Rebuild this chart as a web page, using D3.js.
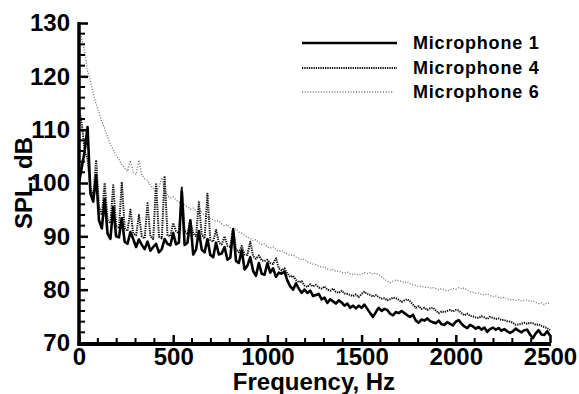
<!DOCTYPE html>
<html><head><meta charset="utf-8">
<script src="https://cdn.jsdelivr.net/npm/d3@7"></script>
<style>
html,body{margin:0;padding:0;background:#fff;}
svg text{font-family:"Liberation Sans",Arial,Helvetica,sans-serif;font-weight:bold;fill:#000;}
</style></head><body>
<svg id="chart" width="579" height="394"></svg>
<script>
// Frequency bins (Hz): 166 bins evenly spaced from 0 to 2500 Hz
const binCount = 166;
const freqMax = 2500;
const freqHz = d3.range(binCount).map(i => i * freqMax / (binCount - 1));

const seriesNames = ["Microphone 1", "Microphone 4", "Microphone 6"];

const mic1 = [100,103,106,110.5,98,96.5,101.5,93,91.5,97,90.5,89.5,95.5,90,89.8,93.4,89,88.6,90.8,89.5,
88,89.4,88.4,87.6,89,87.3,88,88.6,87,87.6,89.5,88.6,88.3,90.6,88.5,88.8,98.5,88.4,88.8,93,
86.6,87.5,91,87.5,87,89.5,86.5,86.1,88.8,86.6,86.8,88,85.6,86,91.2,85.4,85,87.4,83.8,84.5,
86.1,83.5,82.6,85,83,82.8,85,83.2,84,82.4,83.2,83,83.4,81.7,80.6,80,81.2,80.2,79.4,80,
79.4,79.8,78.8,79,79.2,78.2,78.5,77.5,78.2,77.8,77.4,78,77.6,77,77.4,76.6,77,76.5,77,76.6,
77.2,76.4,75.6,74.9,75.8,76.6,76,76.4,76.2,75.5,75.2,75.8,75.6,76,75.6,75.2,74.9,75.3,74.2,73.8,
74.4,74.2,74.6,74.1,73.9,73.7,74.2,73.5,73.4,73.9,73.6,73.3,74,74.3,73.6,73.1,72.8,73.4,73.1,72.7,
73,72.5,72.9,72.1,72.6,72.9,72.5,72.8,72.3,72.6,72.2,71.9,72.2,72.7,72.3,72,72.4,72.5,71.6,70.9,
71.8,72.4,71.6,71.5,72.2,71.4];

const mic4 = [114,111,106,104.5,99,97.5,104.3,95.5,94,100,93,92.5,99.6,92,91.5,100.2,91.5,91,95,90.5,
90.2,94,90,89.6,96.2,90,89.5,100,90,89.6,101.3,90.2,90,92.5,91,90.5,99.3,91,90.4,93,
90.5,90,96.4,90.3,89.6,98,89.3,89,91.2,88.8,88.5,90,88.2,88,91.6,87.5,87,88.2,86.6,86.5,
89,86.3,85.8,86.4,85.5,85.4,85.6,85,84.8,85.9,84,83.6,84,83,82.4,82.6,81.8,81.4,81.6,80.8,
80.5,81,80.6,80.9,80.4,80.2,80.6,80,79.8,80.2,79.6,79.4,79.8,79.3,79.2,79,78.8,79.1,78.6,79.2,
79.6,79.2,79,78.7,79,78.6,78.3,78.4,78,78.2,78.5,78.4,78.1,77.7,78,78.2,77.8,77.2,76.6,76.9,
76.4,76.6,76.2,76.5,76.6,76.1,75.6,75.9,75.8,76,76.2,75.9,76.2,76.1,75.6,75.2,75.5,75.1,75,74.8,
74.7,75,74.8,74.5,74.9,74.7,74.5,74.6,74.3,74.3,74.1,74,73.8,73.4,73.5,73.6,73.8,73.6,73.8,73.7,
73.4,73.5,73.2,73,72.8,72.4];

const mic6 = [129,127,124.5,121,119,116.8,114.8,113.3,111.5,110.2,108.6,107.3,106.2,105.2,104.4,103.4,102.8,102.2,104.2,102,
101.6,104.3,101.5,100.8,100.5,99.6,99,98.3,99.2,101,98.8,97.6,97.2,97.4,96.8,96.4,96.2,95.8,95.6,95.1,
95.3,94.7,94.4,94.6,93.9,93.6,93.4,93.1,92.8,92.9,92.3,92,92.2,91.6,91.3,91.4,90.8,90.6,90.2,89.8,
89.6,89.2,89.4,88.8,88.5,88.6,88,87.8,88,87.5,87.2,87.4,86.9,86.7,86.4,86.5,86.1,85.9,85.6,85.7,
85.2,85,84.8,84.7,84.4,84.2,84.3,83.9,83.7,83.8,83.4,83.5,83.2,83.1,83.3,83,82.8,83,82.7,82.9,
83.2,83,83.2,82.9,83.1,82.8,82.4,82,81.6,81.3,81.6,81.8,81.7,81.5,81.3,81.5,81.1,80.9,80.8,80.6,
80.7,80.4,80.5,80.3,80.4,80.2,80,80.2,79.9,79.8,80,80.2,80.1,80.4,80.2,80.3,79.9,79.6,79.5,79.3,
79.4,79.1,79,79.2,78.9,78.7,78.8,78.5,78.4,78.6,78.3,78.1,78.2,78,78.1,77.9,78,78.1,77.8,77.9,
77.6,77.4,77.5,77.2,77.5,77.4];

const xTicks = [0, 500, 1000, 1500, 2000, 2500];
const yTicks = [70, 80, 90, 100, 110, 120, 130];

const svg = d3.select("#chart");
const x = d3.scaleLinear().domain([0, 2500]).range([79, 550]);
const y = d3.scaleLinear().domain([70, 130]).range([343, 23]);

const styles = [
  {stroke:"#000", width:2.6, dash:null},
  {stroke:"#111", width:2.0, dash:"1.3,1"},
  {stroke:"#707070", width:1.3, dash:"1,1.7"}
];
const allSeries = [mic1, mic4, mic6];

const clipId = "plotclip";
svg.append("clipPath").attr("id", clipId).append("rect")
  .attr("x", 79).attr("y", 20).attr("width", 475).attr("height", 323);

const line = d3.line().x((d, i) => x(freqHz[i])).y(d => y(d));
const plot = svg.append("g").attr("clip-path", `url(#${clipId})`);
// draw in reverse so Mic 1 sits on top
[2, 1, 0].forEach(k => {
  plot.append("path").datum(allSeries[k])
    .attr("fill", "none")
    .attr("stroke", styles[k].stroke)
    .attr("stroke-width", styles[k].width)
    .attr("stroke-dasharray", styles[k].dash)
    .attr("stroke-linejoin", "round")
    .attr("d", line);
});

const fontFam = "Liberation Sans, Arial, sans-serif";

// X axis
const xAxis = d3.axisBottom(x).tickValues(xTicks).tickSize(-8).tickPadding(5).tickFormat(d3.format("d"));
const gx = svg.append("g").attr("transform", "translate(0,343)").call(xAxis);
gx.select(".domain").remove();
gx.selectAll(".tick line").attr("stroke", "#000").attr("stroke-width", 2.5);
gx.selectAll(".tick text").attr("font-size", 24).attr("font-family", fontFam).attr("font-weight", "bold").attr("fill", "#000");
const xMinor = d3.range(100, 2500, 100).filter(v => v % 500 !== 0);
svg.append("g").selectAll("line").data(xMinor).join("line")
  .attr("x1", d => x(d)).attr("x2", d => x(d)).attr("y1", 343).attr("y2", 338)
  .attr("stroke", "#000").attr("stroke-width", 2);

// Y axis
const yAxis = d3.axisLeft(y).tickValues(yTicks).tickSize(-9).tickPadding(9).tickFormat(d3.format("d"));
const gy = svg.append("g").attr("transform", "translate(79,0)").call(yAxis);
gy.select(".domain").remove();
gy.selectAll(".tick line").attr("stroke", "#000").attr("stroke-width", 2.5);
gy.selectAll(".tick text").attr("font-size", 24).attr("font-family", fontFam).attr("font-weight", "bold").attr("fill", "#000");
const yMinor = d3.range(72, 130, 2).filter(v => v % 10 !== 0);
svg.append("g").selectAll("line").data(yMinor).join("line")
  .attr("x1", 79).attr("x2", 85).attr("y1", d => y(d)).attr("y2", d => y(d))
  .attr("stroke", "#000").attr("stroke-width", 2);

// axis lines
svg.append("line").attr("x1", 79).attr("x2", 79).attr("y1", y(130) - 1).attr("y2", y(70) + 2)
  .attr("stroke", "#000").attr("stroke-width", 3.5);
svg.append("line").attr("x1", 77.25).attr("x2", x(2500) + 1).attr("y1", 344).attr("y2", 344)
  .attr("stroke", "#000").attr("stroke-width", 4);

// axis titles
svg.append("text").attr("x", 314).attr("y", 390).attr("text-anchor", "middle")
  .attr("font-size", 24).text("Frequency, Hz");
svg.append("text").attr("transform", "translate(32,183) rotate(-90)").attr("text-anchor", "middle")
  .attr("font-size", 24).text("SPL, dB");

// legend
const legendY = [43, 68, 92];
const lg = svg.append("g");
seriesNames.forEach((name, k) => {
  lg.append("line").attr("x1", 302).attr("x2", k === 2 ? 394 : 397)
    .attr("y1", legendY[k]).attr("y2", legendY[k])
    .attr("stroke", styles[k].stroke).attr("stroke-width", k === 0 ? 2.6 : styles[k].width)
    .attr("stroke-dasharray", styles[k].dash);
  lg.append("text").attr("x", 413).attr("y", legendY[k]).attr("dy", "0.36em")
    .attr("font-size", 18).attr("letter-spacing", "0.8px").text(name);
});
</script>
</body></html>
